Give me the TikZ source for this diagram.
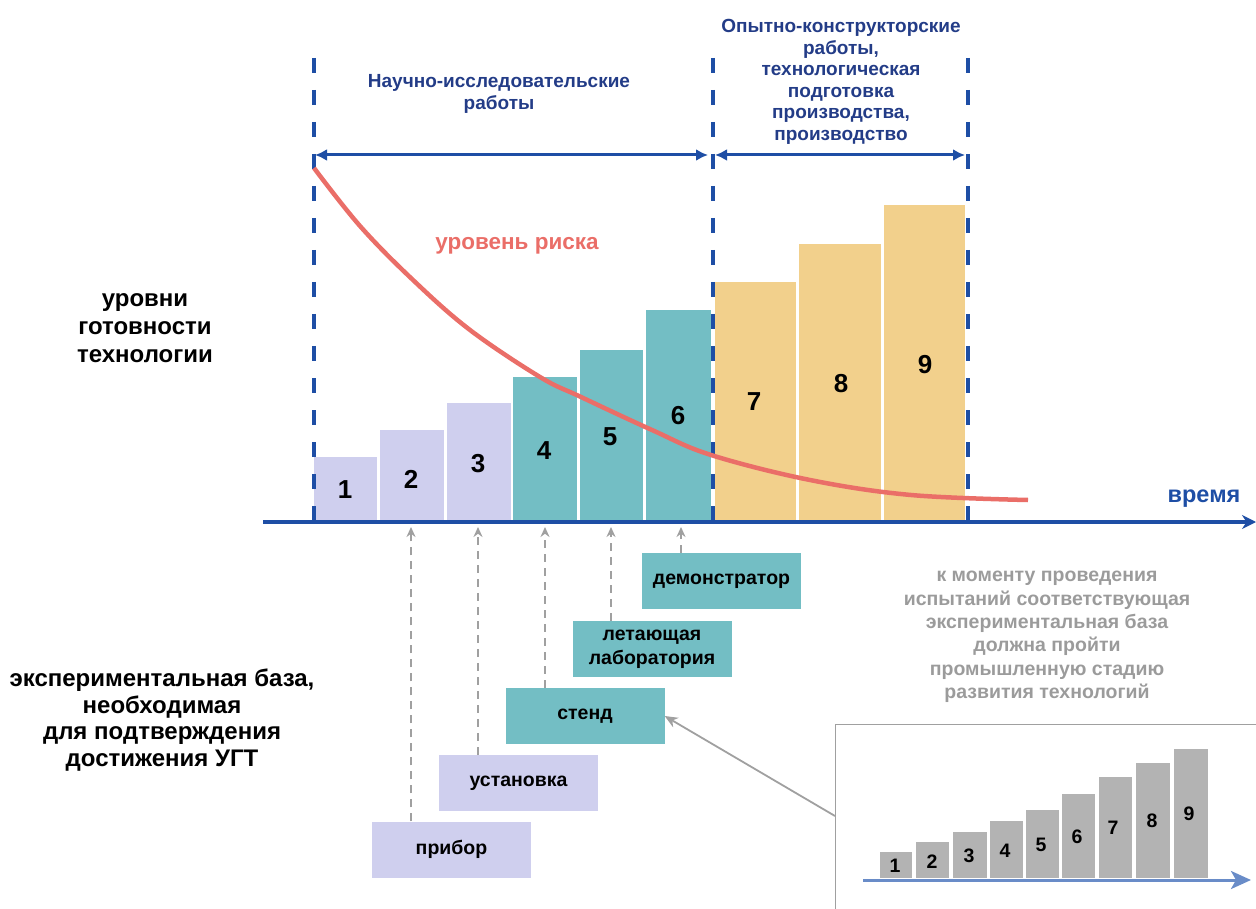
\documentclass[tikz,border=0pt]{standalone}
\usepackage{fontspec}
\setmainfont{Liberation Sans}
\usetikzlibrary{arrows.meta}
\definecolor{axblue}{RGB}{30,78,165}
\definecolor{hdrblue}{RGB}{35,60,135}
\definecolor{lav}{RGB}{207,207,238}
\definecolor{tealb}{RGB}{115,190,196}
\definecolor{orng}{RGB}{242,208,140}
\definecolor{riskred}{RGB}{234,110,104}
\definecolor{greytxt}{RGB}{155,155,155}
\definecolor{greyarr}{RGB}{160,160,160}
\definecolor{insetbar}{RGB}{179,179,179}
\definecolor{insetarr}{RGB}{105,140,200}
\begin{document}
\begin{tikzpicture}[x=1pt,y=-1pt,
  every node/.style={inner sep=0pt},
  hdr/.style={font=\bfseries\fontsize{19}{21.5}\selectfont, text=hdrblue, align=center},
  bigtxt/.style={font=\bfseries\fontsize{24}{28}\selectfont, align=center},
  basetxt/.style={font=\bfseries\fontsize{24}{26.5}\selectfont, align=center},
  greynote/.style={font=\bfseries\fontsize{19.5}{23.3}\selectfont, text=greytxt, align=center},
  barnum/.style={font=\bfseries\fontsize{26}{26}\selectfont},
  insnum/.style={font=\bfseries\fontsize{19.5}{19.5}\selectfont},
  basebox/.style={minimum width=159pt, minimum height=56pt, font=\bfseries\fontsize{19.5}{24}\selectfont, align=center},
  lavbox/.style={basebox, fill=lav},
  tealbox/.style={basebox, fill=tealb},
  phase/.style={axblue, line width=4pt, dash pattern=on 15pt off 17pt},
  dblarrow/.style={axblue, line width=3pt, {Latex[length=12pt,width=12pt]}-{Latex[length=12pt,width=12pt]}},
  dasharrow/.style={greyarr, line width=2pt, dash pattern=on 8pt off 6pt, -{Stealth[length=10pt,width=9pt]}},
]
\useasboundingbox (0,0) rectangle (1256,909);

% bars
\fill[lav] (314,457) rectangle (377,522);
\fill[lav] (380,430) rectangle (444,522);
\fill[lav] (447,403) rectangle (511,522);
\fill[tealb] (513,377) rectangle (577,522);
\fill[tealb] (580,350) rectangle (643,522);
\fill[tealb] (646,310) rectangle (711,522);
\fill[orng] (715,282) rectangle (796,522);
\fill[orng] (799,244) rectangle (881,522);
\fill[orng] (884,205) rectangle (965,522);

\node[barnum] (n1) at (345,490) {1};
\node[barnum] (n2) at (411,479) {2};
\node[barnum] (n3) at (478,464) {3};
\node[barnum] (n4) at (544,451) {4};
\node[barnum] (n5) at (610,437) {5};
\node[barnum] (n6) at (678,416) {6};
\node[barnum] (n7) at (754,402) {7};
\node[barnum] (n8) at (841,384) {8};
\node[barnum] (n9) at (925,365) {9};

% phase lines
\draw[phase] (314,58) -- (314,522);
\draw[phase] (713,58) -- (713,522);
\draw[phase] (968,58) -- (968,522);

% double arrows
\coordinate (d1) at (315,155);
\coordinate (d2) at (708,155);
\coordinate (d3) at (715,155);
\coordinate (d4) at (965,155);
\draw[dblarrow] (d1) -- (d2);
\draw[dblarrow] (d3) -- (d4);

\node[hdr] (h1) at (499,94) {Научно-исследовательские\\работы};
\node[hdr] (h2) at (841,82) {Опытно-конструкторские\\работы,\\технологическая\\подготовка\\производства,\\производство};

% risk curve
\draw[riskred, line width=4.5pt] plot[smooth, tension=0.6] coordinates {(314,168) (360,226) (413,280) (470,330) (540,377) (581,397) (652,430) (711,455) (810,480) (911,495) (1028,500)};
\node[font=\bfseries\fontsize{22.5}{22.5}\selectfont, text=riskred] (risk) at (517,246) {уровень риска};

% axis
\coordinate (ax0) at (263,522);
\coordinate (ax1) at (1256,522);
\draw[axblue, line width=3.5pt, -{Stealth[length=14pt,width=14pt]}] (ax0) -- (ax1);
\node[font=\bfseries\fontsize{23.5}{23.5}\selectfont, text=axblue] (time) at (1204,499) {время};

% left labels
\node[bigtxt] (lvl) at (145,328) {уровни\\готовности\\технологии};
\node[basetxt] (base) at (162,720) {экспериментальная база,\\необходимая\\для подтверждения\\достижения УГТ};

% boxes
\node[lavbox] (pribor) at (451.5,849.5) {прибор};
\node[lavbox] (ustan) at (518.5,783) {установка};
\node[tealbox] (stend) at (585,716) {стенд};
\node[tealbox] (lab) at (652,649) {летающая\\лаборатория};
\node[tealbox] (demo) at (721.5,581) {демонстратор};

\coordinate (a1) at (411,527);
\coordinate (a2) at (478,527);
\coordinate (a3) at (545,527);
\coordinate (a4) at (611,527);
\coordinate (a5) at (681,527);
\draw[dasharrow] (pribor.north -| a1) -- (a1);
\draw[dasharrow] (ustan.north -| a2) -- (a2);
\draw[dasharrow] (stend.north -| a3) -- (a3);
\draw[dasharrow] (lab.north -| a4) -- (a4);
\draw[dasharrow] (demo.north -| a5) -- (a5);

% grey note
\node[greynote] (note) at (1047,637) {к моменту проведения\\испытаний соответствующая\\экспериментальная база\\должна пройти\\промышленную стадию\\развития технологий};

% inset
\draw[greyarr, line width=1.5pt] (835.5,909) -- (835.5,724.5) -- (1256,724.5);
\coordinate (insL) at (835,816);
\draw[greyarr, line width=1.8pt, -{Stealth[length=13pt,width=11pt]}] (insL) -- (stend.east);

\fill[insetbar] (880,852) rectangle (912,878);
\fill[insetbar] (916,842) rectangle (949,878);
\fill[insetbar] (953,832) rectangle (987,878);
\fill[insetbar] (990,821) rectangle (1023,878);
\fill[insetbar] (1026,810) rectangle (1059,878);
\fill[insetbar] (1062,794) rectangle (1095,878);
\fill[insetbar] (1099,777) rectangle (1132,878);
\fill[insetbar] (1136,763) rectangle (1170,878);
\fill[insetbar] (1174,749) rectangle (1208,878);
\coordinate (i0) at (863,880);
\coordinate (i1) at (1251,880);
\draw[insetarr, line width=3pt, -{Stealth[length=20pt,width=18pt,inset=5pt]}] (i0) -- (i1);

\node[insnum] (m1) at (895,866) {1};
\node[insnum] (m2) at (932,862) {2};
\node[insnum] (m3) at (969,856) {3};
\node[insnum] (m4) at (1005,851) {4};
\node[insnum] (m5) at (1041,845) {5};
\node[insnum] (m6) at (1077,837) {6};
\node[insnum] (m7) at (1113,828) {7};
\node[insnum] (m8) at (1152,821) {8};
\node[insnum] (m9) at (1189,814) {9};
\end{tikzpicture}
\end{document}
